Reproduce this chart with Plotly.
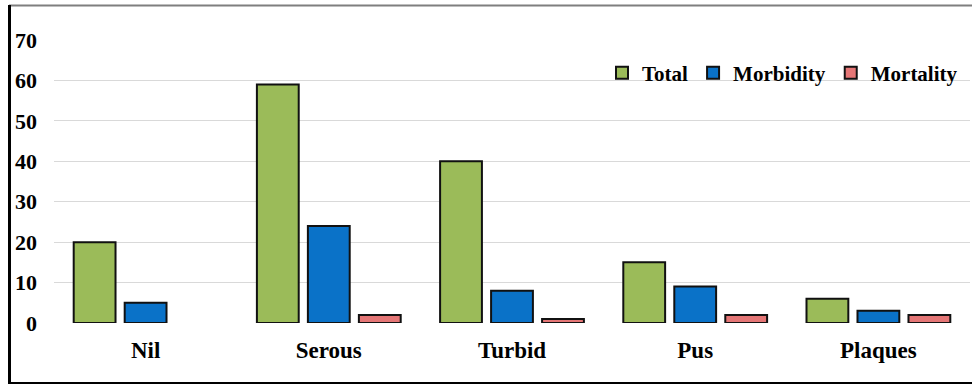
import plotly.graph_objects as go

# Categories and series values
categories = ["Nil", "Serous", "Turbid", "Pus", "Plaques"]
total = [20, 59, 40, 15, 6]
morbidity = [5, 24, 8, 9, 3]
mortality = [0, 2, 1, 2, 2]
y_ticks = [0, 10, 20, 30, 40, 50, 60, 70]

W, H = 972, 385
L, R, T, B = 54, 2, 40, 62
PW, PH = W - L - R, H - T - B


def px_x(x):
    return (x - L) / PW


def px_y(y):
    return (H - B - y) / PH


FONT = "Liberation Serif, Times New Roman, serif"

series = [
    ("Total", total, "#9BBB59"),
    ("Morbidity", morbidity, "#0A72C8"),
    ("Mortality", mortality, "#E57676"),
]

fig = go.Figure()
for name, vals, color in series:
    # a zero count is left empty so no outlined sliver is drawn
    fig.add_trace(go.Bar(
        name=name,
        x=categories,
        y=[v if v > 0 else None for v in vals],
        marker=dict(color=color, line=dict(color="#111111", width=2)),
    ))

fig.update_layout(
    width=W,
    height=H,
    margin=dict(l=L, r=R, t=T, b=B),
    paper_bgcolor="white",
    plot_bgcolor="white",
    barmode="group",
    bargap=0.165,
    bargroupgap=0.18,
    font=dict(family=FONT, size=21, color="black", weight="bold"),
    showlegend=True,
    legend=dict(
        orientation="h",
        x=px_x(602),
        xanchor="left",
        y=px_y(73),
        yanchor="middle",
        bgcolor="rgba(0,0,0,0)",
        font=dict(family=FONT, size=21, color="black", weight="bold"),
        itemclick=False,
    ),
    xaxis=dict(
        showgrid=False,
        showline=False,
        zeroline=False,
        ticks="",
        ticklabelstandoff=11,
        tickfont=dict(family=FONT, size=23, color="black", weight="bold"),
    ),
    yaxis=dict(
        range=[0, 70],
        tickvals=y_ticks,
        showgrid=True,
        gridcolor="#D9D9D9",
        gridwidth=1,
        zeroline=False,
        showline=False,
        ticks="",
        ticklabelstandoff=16,
        tickfont=dict(family=FONT, size=22, color="black", weight="bold"),
    ),
    shapes=[
        # frame around the chart area
        dict(type="line", xref="paper", yref="paper",
             x0=px_x(9), x1=px_x(972), y0=px_y(5.5), y1=px_y(5.5),
             line=dict(color="#7F7F7F", width=2)),
        dict(type="line", xref="paper", yref="paper",
             x0=px_x(9.5), x1=px_x(9.5), y0=px_y(5), y1=px_y(384),
             line=dict(color="black", width=3)),
        dict(type="line", xref="paper", yref="paper",
             x0=px_x(8), x1=px_x(972), y0=px_y(383), y1=px_y(383),
             line=dict(color="black", width=2)),
    ],
)

fig.write_html("out.html")
